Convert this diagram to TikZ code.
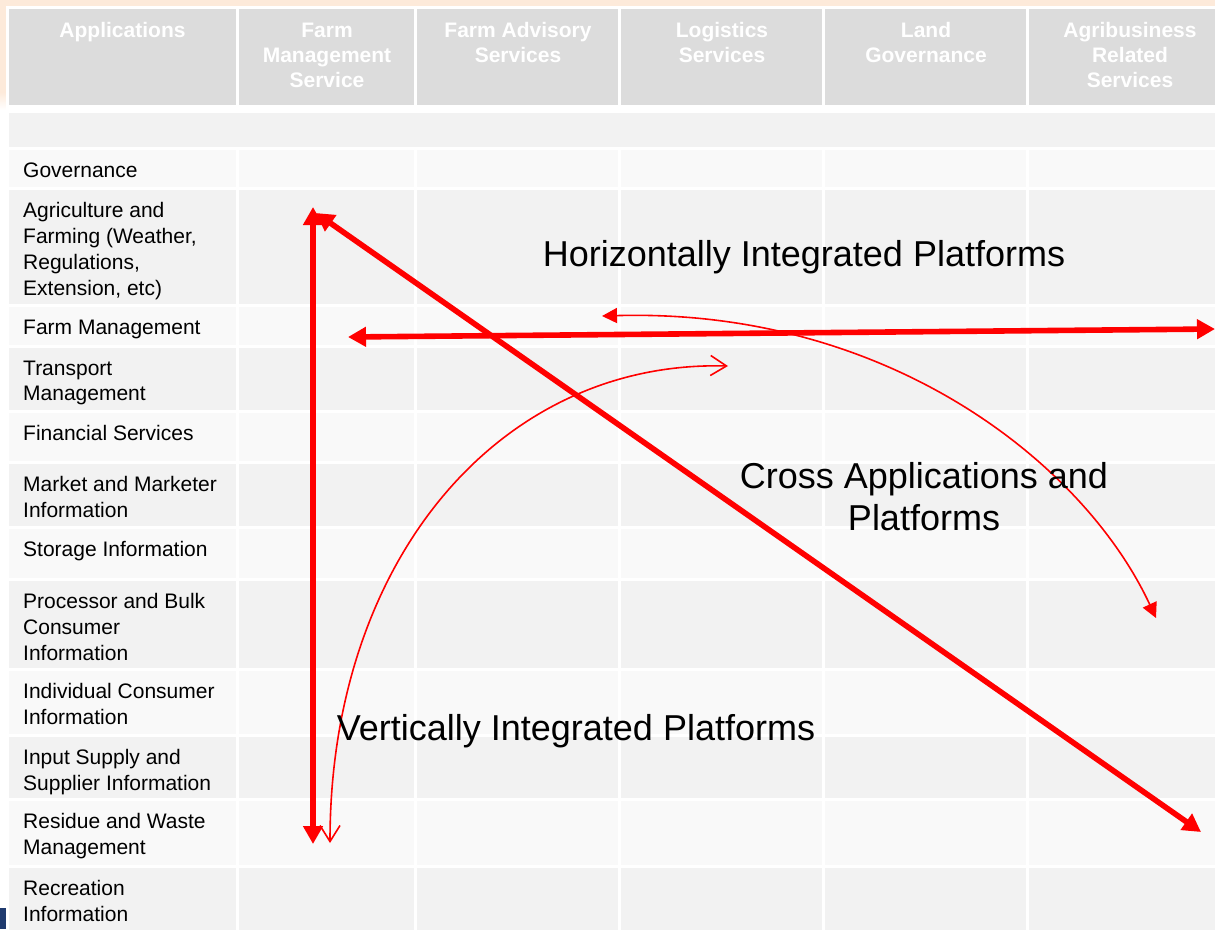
\documentclass[tikz,border=0pt]{standalone}
\usepackage{fontspec}
\setmainfont{Liberation Sans}
\usetikzlibrary{arrows.meta}

\definecolor{peach}{HTML}{FDEADA}
\definecolor{headgray}{HTML}{DCDCDC}
\definecolor{rowdark}{HTML}{F2F2F2}
\definecolor{rowlight}{HTML}{F9F9F9}
\definecolor{navy}{HTML}{1F3A6E}

\tikzset{
  headtext/.style={font=\fontsize{21}{25}\selectfont\bfseries,text=white,align=center,anchor=north,inner sep=0pt},
  rowtext/.style={font=\fontsize{21}{25.7}\selectfont,align=left,anchor=north west,inner sep=0pt},
  bigtext/.style={font=\fontsize{36}{42}\selectfont,align=center,inner sep=0pt},
  thickarrow/.style={red,line width=5.6pt,{Triangle[length=18pt,width=19pt]}-{Triangle[length=18pt,width=19pt]}},
  thinfilled/.style={red,line width=1.6pt,{Triangle[length=15pt,width=15pt]}-{Triangle[length=15pt,width=15pt]}},
  thinopen/.style={red,line width=1.6pt,{Straight Barb[length=16pt,width=20pt]}-{Straight Barb[length=16pt,width=20pt]}}
}

\begin{document}
\begin{tikzpicture}[x=1pt,y=-1pt]
  \useasboundingbox (0,0) rectangle (1215,929);

  % page background
  \fill[white] (0,0) rectangle (1215,929);
  \fill[peach] (0,0) rectangle (1215,92);
  \shade[top color=peach,bottom color=white] (0,92) rectangle (9,110);
  \fill[navy] (0,908) rectangle (6,929);
  \fill[white] (6,6) rectangle (1215,929);

  % header row
  \foreach \l/\r/\cx/\txt [count=\i] in {9/236/122.5/Applications,
      239/414/327/{Farm\\Management\\Service},
      417/618/518/{Farm Advisory\\Services},
      621/822/722/{Logistics\\Services},
      825/1026/926/{Land\\Governance},
      1029/1215/1130/{Agribusiness\\Related\\Services}} {
    \fill[headgray] (\l,9) rectangle (\r,105);
    \node[headtext] (head\i) at (\cx,22.5) {\txt};
  }

  % blank row under the header
  \fill[rowdark] (9,113) rectangle (1215,147);

  % application rows, text sits at the top of each row
  \foreach \top/\bot/\fillc/\txt [count=\i] in {
      150/187/rowlight/Governance,
      190/304/rowdark/{Agriculture and\\Farming (Weather,\\Regulations,\\Extension, etc)},
      307/345/rowlight/Farm Management,
      348/410/rowdark/{Transport\\Management},
      413/461/rowlight/Financial Services,
      464/526/rowdark/{Market and Marketer\\Information},
      529/578/rowlight/Storage Information,
      581/668/rowdark/{Processor and Bulk\\Consumer\\Information},
      671/734/rowlight/{Individual Consumer\\Information},
      737/798/rowdark/{Input Supply and\\Supplier Information},
      801/865/rowlight/{Residue and Waste\\Management},
      868/935/rowdark/{Recreation\\Information}} {
    \foreach \l/\r in {9/236,239/414,417/618,621/822,825/1026,1029/1215}
      \fill[\fillc] (\l,\top) rectangle (\r,\bot);
    \node[rowtext] (row\i) at (23,\top+12.5) {\txt};
  }

  % arrow end points
  \coordinate (vtop) at (313,207);
  \coordinate (vbot) at (313,844);
  \coordinate (dtop) at (316,213);
  \coordinate (dbot) at (1201,832);
  \coordinate (hleft) at (348,337);
  \coordinate (hright) at (1215,329);
  \coordinate (ctop) at (602,316);
  \coordinate (cbot) at (1156,618);
  \coordinate (otop) at (728,366);
  \coordinate (obot) at (330,843);

  % platform arrows
  \draw[thickarrow] (vtop) -- (vbot);
  \draw[thickarrow] (dtop) -- (dbot);
  \draw[thickarrow] (hleft) -- (hright);
  \draw[thinfilled] (ctop) .. controls (890,308) and (1085,465) .. (cbot);
  \draw[thinopen] (otop) .. controls (500,360) and (330,560) .. (obot);

  % labels
  \node[bigtext] (horiz) at (804,257) {Horizontally Integrated Platforms};
  \node[bigtext] (cross) at (924,497) {Cross Applications and\\Platforms};
  \node[bigtext] (vert) at (576,731) {Vertically Integrated Platforms};
\end{tikzpicture}
\end{document}
